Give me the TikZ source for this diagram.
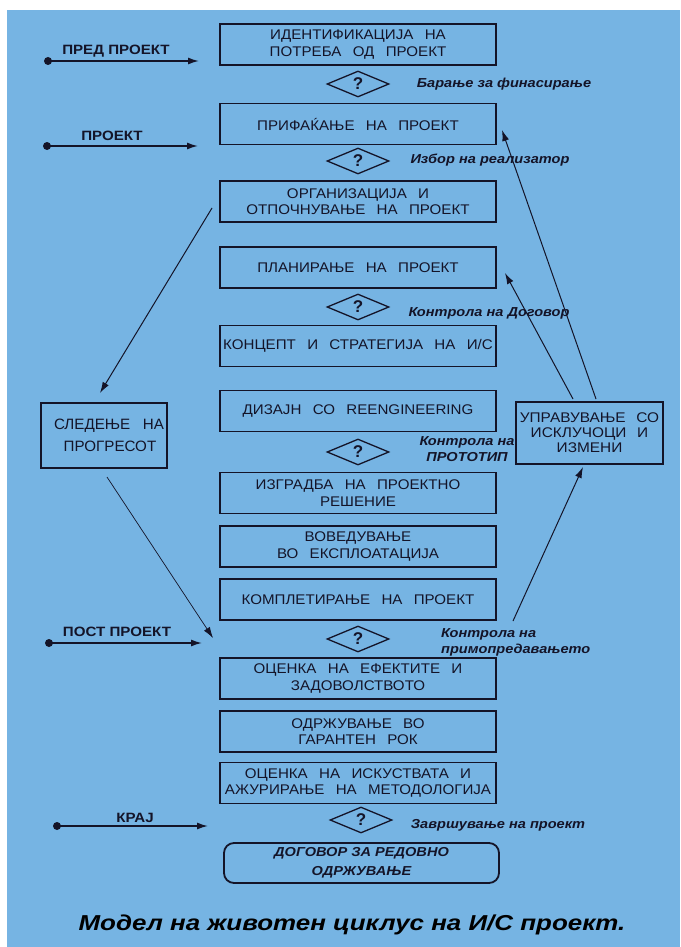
\documentclass[tikz,border=0pt]{standalone}
\usepackage{fontspec}
\setmainfont{Liberation Sans}
\newfontfamily\stfont[FakeStretch=1.12]{Liberation Sans}
\newfontfamily\capfont[FakeStretch=1.2]{Liberation Sans}
\newfontfamily\boxfont[FakeStretch=1.08,WordSpace={2.7,0,0}]{Liberation Sans}
\newfontfamily\sidefont[FakeStretch=1.01,WordSpace={3.0,0,0}]{Liberation Sans}
\newfontfamily\mgmtfont[FakeStretch=1.1,WordSpace={2.5,0,0}]{Liberation Sans}
\usetikzlibrary{shapes.geometric,arrows.meta,calc}
\definecolor{bgblue}{RGB}{118,180,227}
\definecolor{ink}{RGB}{20,20,40}
\begin{document}
\begin{tikzpicture}[x=1pt,y=-1pt,
  phase/.style={draw=ink, line width=1.8pt, minimum width=276pt, minimum height=41pt, inner sep=0pt, align=center, text=ink,
    font=\boxfont\fontsize{14}{16.5}\selectfont},
  endbox/.style={draw=ink, line width=1.8pt, rounded corners=10pt, minimum width=275pt, minimum height=40pt, inner sep=0pt, align=center, text=ink,
    font=\stfont\bfseries\itshape\fontsize{13}{19}\selectfont},
  qd/.style={diamond, draw=ink, line width=1.3pt, minimum width=62pt, minimum height=26pt, inner sep=0pt, text=ink,
    font=\bfseries\fontsize{17}{17}\selectfont},
  note/.style={inner sep=0pt, text=ink, font=\stfont\bfseries\itshape\fontsize{13}{16}\selectfont},
  lbl/.style={inner sep=0pt, text=ink, font=\stfont\bfseries\fontsize{13.5}{15}\selectfont},
  sidebox/.style={draw=ink, line width=1.8pt, inner sep=0pt, align=center, text=ink},
  dotnode/.style={circle, fill=ink, inner sep=0pt, minimum size=8pt},
  harr/.style={draw=ink, line width=1.5pt, -{Latex[length=11pt,width=7pt]}},
  arr/.style={draw=ink, line width=1pt, -{Latex[length=11pt,width=7pt]}},
  thinarr/.style={draw=ink, line width=0.7pt, -{Latex[length=11pt,width=7pt]}}]
\fill[white] (0,0) rectangle (680,947);
\fill[bgblue] (7,10) rectangle (680,947);
\useasboundingbox (0,0) rectangle (680,947);

% main column
\node[phase] (b1) at (358,44.5) {ИДЕНТИФИКАЦИЈА НА\\ПОТРЕБА ОД ПРОЕКТ};
\node[qd] (d1) at (358,84) {?};
\node[phase] (b2) at (358,124) {ПРИФАЌАЊЕ НА ПРОЕКТ};
\node[qd] (d2) at (358,161) {?};
\node[phase] (b3) at (358,201.5) {ОРГАНИЗАЦИЈА И\\ОТПОЧНУВАЊЕ НА ПРОЕКТ};
\node[phase] (b4) at (358,267.5) {ПЛАНИРАЊЕ НА ПРОЕКТ};
\node[qd] (d3) at (358,307) {?};
\node[phase] (b5) at (358,346) {КОНЦЕПТ И СТРАТЕГИЈА НА И/С};
\node[phase] (b6) at (358,411) {ДИЗАЈН СО REENGINEERING};
\node[qd] (d4) at (358,452) {?};
\node[phase] (b7) at (358,493) {ИЗГРАДБА НА ПРОЕКТНО\\РЕШЕНИЕ};
\node[phase] (b8) at (358,546.5) {ВОВЕДУВАЊЕ\\ВО ЕКСПЛОАТАЦИЈА};
\node[phase] (b9) at (358,599.5) {КОМПЛЕТИРАЊЕ НА ПРОЕКТ};
\node[qd] (d5) at (358,639) {?};
\node[phase] (b10) at (358,678.5) {ОЦЕНКА НА ЕФЕКТИТЕ И\\ЗАДОВОЛСТВОТО};
\node[phase] (b11) at (358,731.5) {ОДРЖУВАЊЕ ВО\\ГАРАНТЕН РОК};
\node[phase] (b12) at (358,783) {ОЦЕНКА НА ИСКУСТВАТА И\\АЖУРИРАЊЕ НА МЕТОДОЛОГИЈА};
\node[qd] (d6) at (361,820) {?};
\node[endbox] (b13) at (361.5,863) {ДОГОВОР ЗА РЕДОВНО\\ОДРЖУВАЊЕ};

% decision notes
\node[note] (n1) at (504,84) {Барање за финасирање};
\node[note] (n2) at (490,160) {Избор на реализатор};
\node[note] (n3) at (489,313) {Контрола на Договор};
\node[note, align=center] (n4) at (467,449) {Контрола на\\ПРОТОТИП};
\node[note, align=left, anchor=west] (n5) at (441,642) {Контрола на\\примопредавањето};
\node[note] (n6) at (498,825) {Завршување на проект};

% side boxes
\node[sidebox, minimum width=126pt, minimum height=65pt,
  font=\sidefont\fontsize{15}{22}\selectfont] (track) at (104,435.5) {\hspace*{10pt}СЛЕДЕЊЕ НА\\\hspace*{12pt}ПРОГРЕСОТ};
\node[sidebox, minimum width=147pt, minimum height=62pt,
  font=\mgmtfont\fontsize{14}{15}\selectfont] (mgmt) at (589.5,433) {УПРАВУВАЊЕ СО\\ИСКЛУЧОЦИ И\\ИЗМЕНИ};

% phase markers on the left
\node[lbl] (l1) at (116,51) {ПРЕД ПРОЕКТ};
\node[lbl] (l2) at (112,136) {ПРОЕКТ};
\node[lbl] (l3) at (117,632) {ПОСТ ПРОЕКТ};
\node[lbl] (l4) at (135,818) {КРАЈ};
\node[dotnode] (p1) at (48,61) {};
\node[dotnode] (p2) at (47,146) {};
\node[dotnode] (p3) at (49,643) {};
\node[dotnode] (p4) at (57,826) {};
\coordinate (e1) at (199,61);
\coordinate (e2) at (198,146);
\coordinate (e3) at (202,643);
\coordinate (e4) at (208,826);
\draw[harr] (p1.center) -- (e1);
\draw[harr] (p2.center) -- (e2);
\draw[harr] (p3.center) -- (e3);
\draw[harr] (p4.center) -- (e4);

% diagonal connectors
\coordinate (s1) at (212,208);
\coordinate (t1) at (100,393);
\draw[arr] (s1) -- (t1);
\coordinate (s2) at (107,477);
\coordinate (t2) at (213,638);
\draw[thinarr] (s2) -- (t2);
\coordinate (s3) at (573,399);
\coordinate (t3) at (505,273);
\draw[arr] (s3) -- (t3);
\coordinate (s4) at (596,399);
\coordinate (t4) at (502,130);
\draw[arr] (s4) -- (t4);
\coordinate (s5) at (513,621);
\coordinate (t5) at (583,467);
\draw[arr] (s5) -- (t5);

% caption
\node[inner sep=0pt, text=black, font=\capfont\bfseries\itshape\fontsize{21.6}{24}\selectfont] (cap) at (352,925) {Модел на животен циклус на И/С проект.};
\end{tikzpicture}
\end{document}
